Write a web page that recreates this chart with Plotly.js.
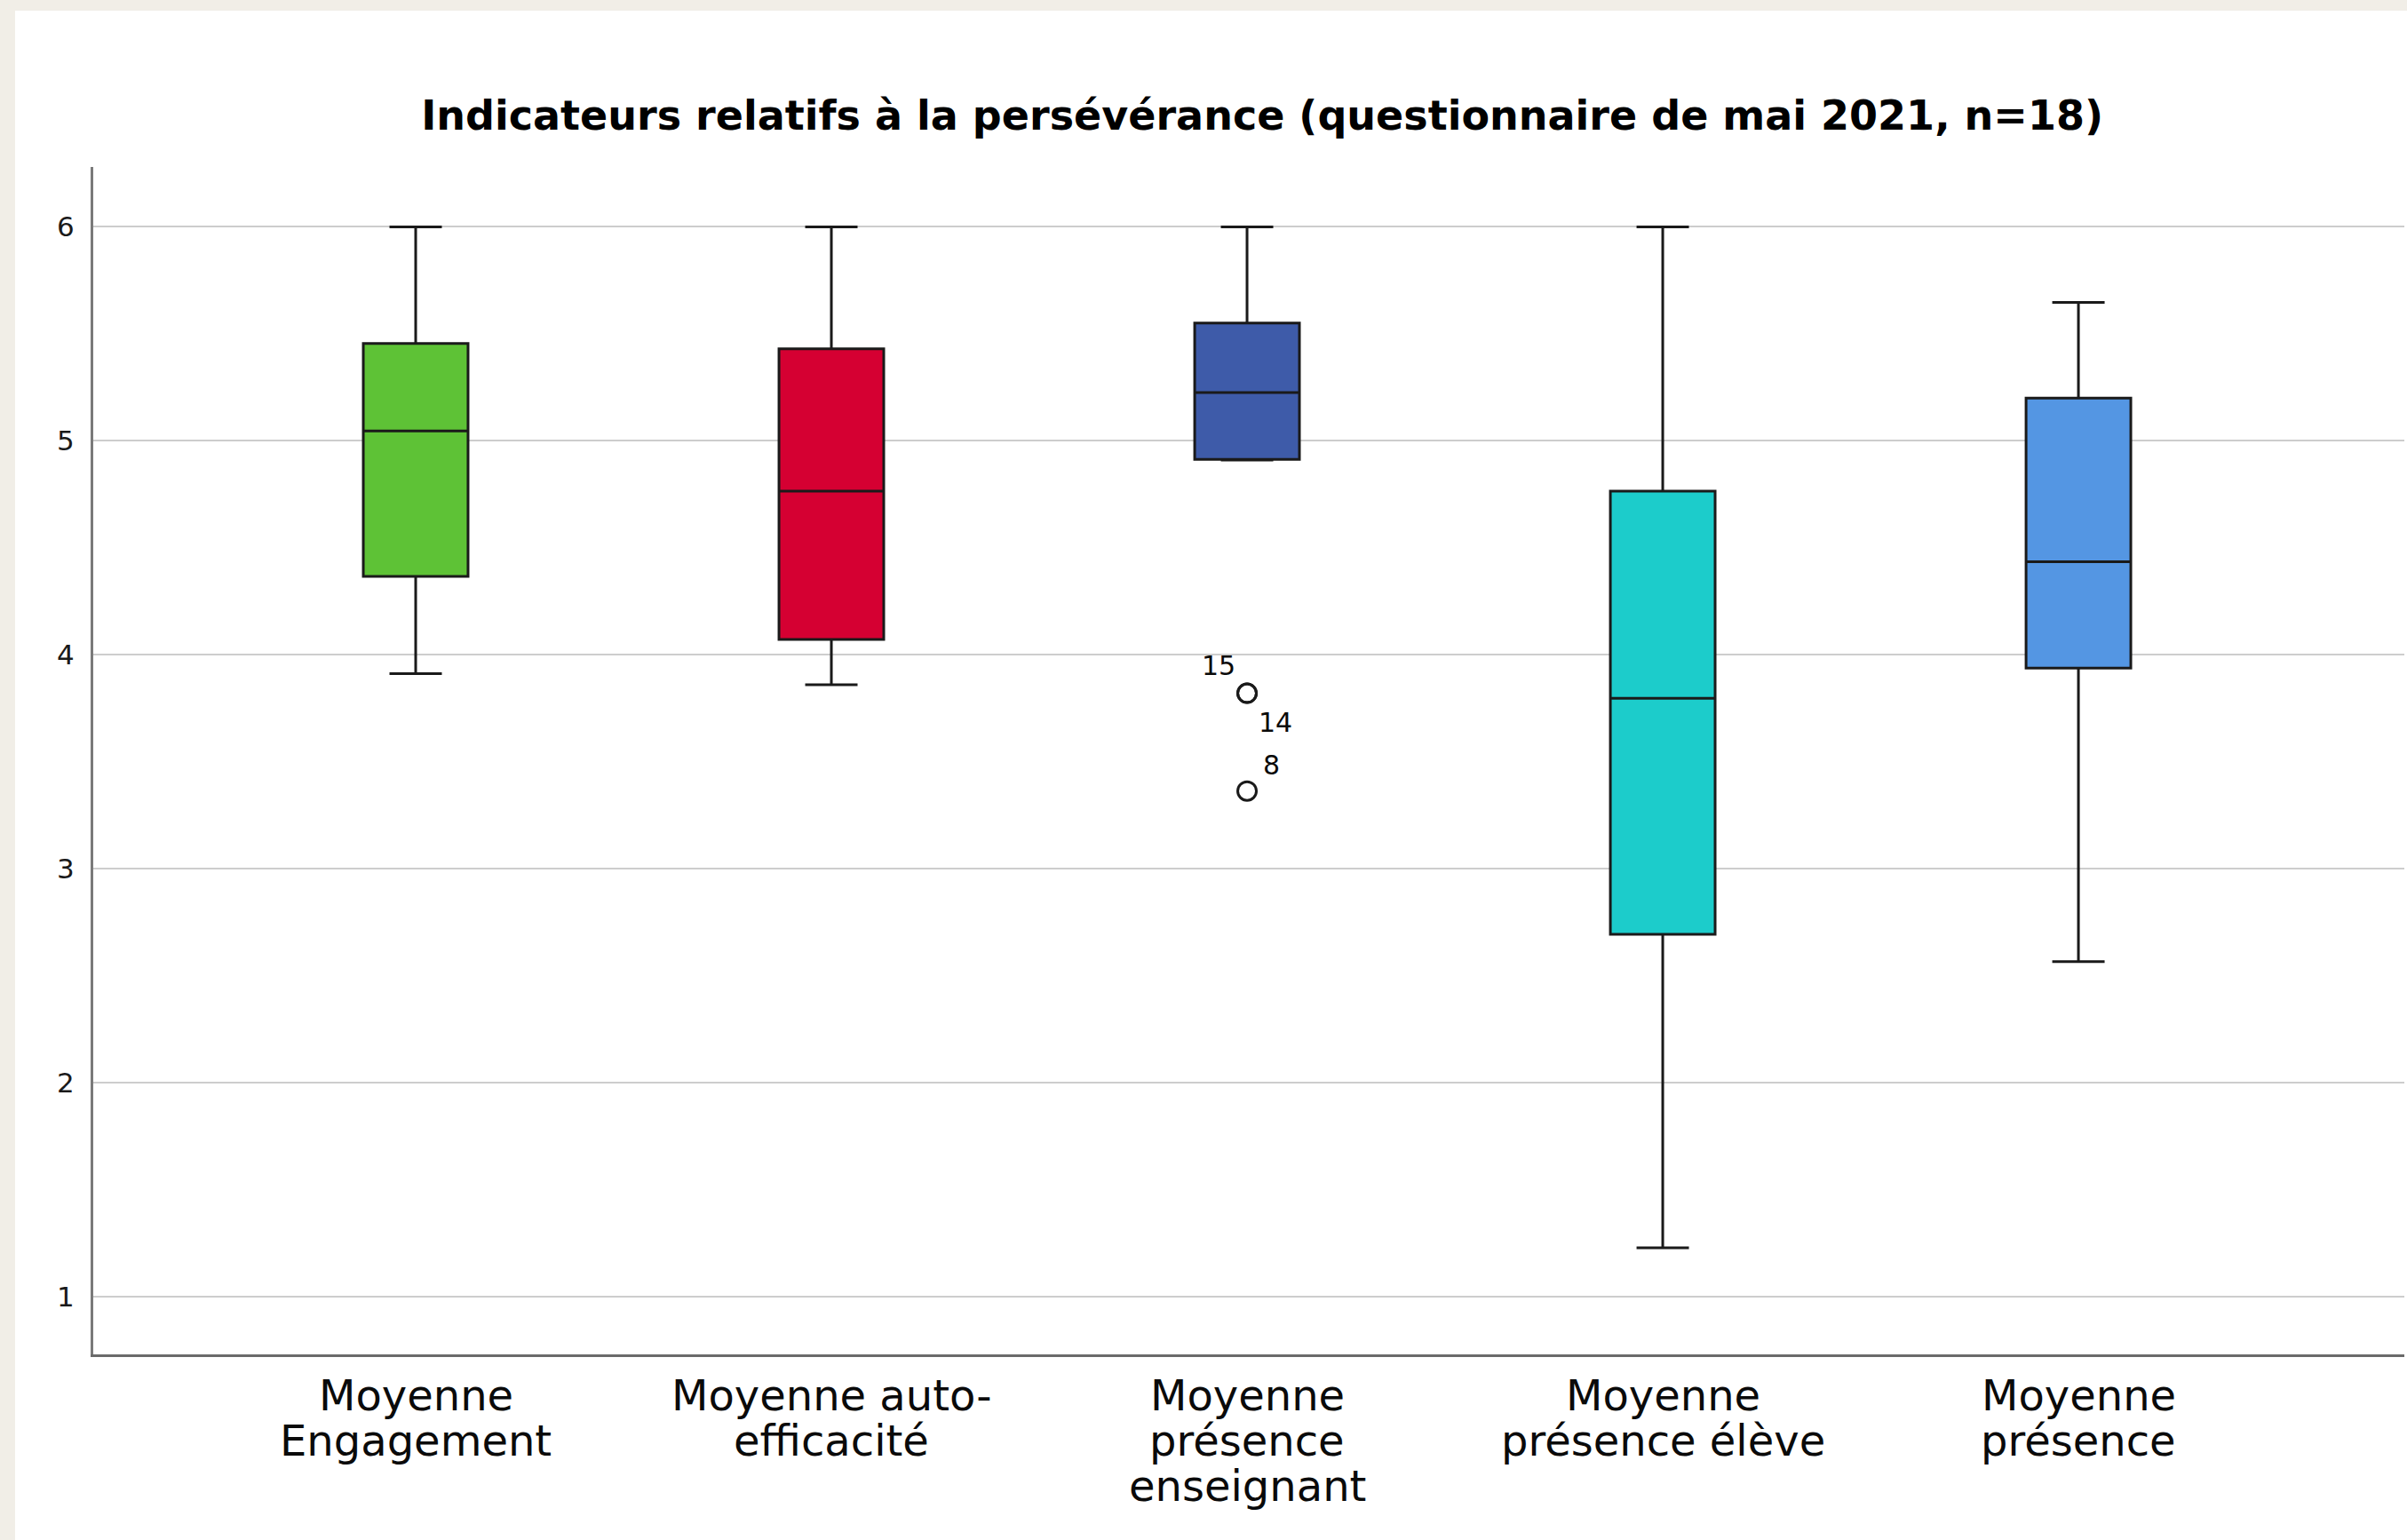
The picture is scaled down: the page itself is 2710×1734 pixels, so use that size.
<!DOCTYPE html>
<html>
<head>
<meta charset="utf-8">
<script src="https://cdn.plot.ly/plotly-3.0.1.min.js"></script>
<style>
  html, body { margin: 0; padding: 0; background: #F1EEE7; width: 2710px; height: 1734px; overflow: hidden; }
  #chart { position: absolute; left: 17px; top: 12px; width: 2693px; height: 1722px; background: #ffffff; }
</style>
</head>
<body>
<div id="chart"></div>
<script>
// ---- data ----
const categories = ['Moyenne Engagement', 'Moyenne auto-efficacité', 'Moyenne présence enseignant', 'Moyenne présence élève', 'Moyenne présence'];
const labelLines = [['Moyenne', 'Engagement'], ['Moyenne auto-', 'efficacité'], ['Moyenne', 'présence', 'enseignant'], ['Moyenne', 'présence élève'], ['Moyenne', 'présence']];
const upperWhisker = [6.0, 6.0, 6.0, 6.0, 5.647];
const q3Values     = [5.455, 5.43, 5.55, 4.765, 5.20];
const medianValues = [5.046, 4.765, 5.226, 3.797, 4.435];
const q1Values     = [4.366, 4.072, 4.913, 2.693, 3.938];
const lowerWhisker = [3.912, 3.860, 4.910, 1.228, 2.566];
const boxColors    = ['#5EC236', '#D50032', '#3E5BA9', '#1CCCCB', '#5496E3'];
const outlierCategory = 'Moyenne présence enseignant';
const outlierValues   = [3.82, 3.82, 3.363];
const outlierIds      = ['15', '14', '8'];
const yTicks = [1, 2, 3, 4, 5, 6];
const titleText = 'Indicateurs relatifs à la persévérance (questionnaire de mai 2021, n=18)';

// ---- styling ----
const FONT = 'DejaVu Sans, Verdana, sans-serif';
const outlierLabelShift = [[-32, 31], [32, -33], [27, 29]];

const traces = categories.map((c, i) => ({
  type: 'box',
  name: c,
  x: [c],
  q1: [q1Values[i]],
  median: [medianValues[i]],
  q3: [q3Values[i]],
  lowerfence: [lowerWhisker[i]],
  upperfence: [upperWhisker[i]],
  width: 0.252,
  whiskerwidth: 0.5,
  fillcolor: boxColors[i],
  line: { color: '#1a1a1a', width: 3 },
  boxpoints: false,
  hoverinfo: 'skip',
  showlegend: false
}));

traces.push({
  type: 'scatter',
  mode: 'markers',
  x: outlierValues.map(() => outlierCategory),
  y: outlierValues,
  marker: { symbol: 'circle-open', size: 21, color: '#1a1a1a', line: { width: 3, color: '#1a1a1a' } },
  hoverinfo: 'skip',
  showlegend: false
});

const annotations = [];
labelLines.forEach((lines, i) => {
  lines.forEach((ln, k) => {
    annotations.push({
      x: categories[i], xref: 'x',
      y: 0, yref: 'paper',
      xanchor: 'center', yanchor: 'top',
      yshift: -16 - 51 * k,
      text: ln, showarrow: false,
      font: { family: FONT, size: 48, color: '#0a0a0a' }
    });
  });
});
outlierIds.forEach((id, k) => {
  annotations.push({
    x: outlierCategory, xref: 'x',
    y: outlierValues[k], yref: 'y',
    xanchor: 'center', yanchor: 'middle',
    xshift: outlierLabelShift[k][0], yshift: outlierLabelShift[k][1],
    text: id, showarrow: false,
    font: { family: FONT, size: 30, color: '#0a0a0a' }
  });
});

const layout = {
  width: 2693,
  height: 1722,
  margin: { l: 88, r: 3, t: 176, b: 209, pad: 0 },
  paper_bgcolor: '#ffffff',
  plot_bgcolor: '#ffffff',
  boxmode: 'overlay',
  showlegend: false,
  title: {
    text: '<b>' + titleText + '</b>',
    font: { family: FONT, size: 46, color: '#000000' },
    xref: 'paper', x: 0.5058, xanchor: 'center',
    yref: 'container', y: 1 - 118 / 1722, yanchor: 'middle'
  },
  xaxis: {
    type: 'category',
    categoryorder: 'array',
    categoryarray: categories,
    range: [-0.7756, 4.784],
    showticklabels: false,
    ticks: '',
    showgrid: false,
    zeroline: false,
    showline: true,
    linecolor: '#6a6a6a',
    linewidth: 3
  },
  yaxis: {
    range: [0.73, 6.28],
    tickvals: yTicks,
    ticktext: yTicks.map(String),
    ticks: '',
    ticklabelstandoff: 12,
    tickfont: { family: FONT, size: 31, color: '#1a1a1a' },
    showgrid: true,
    gridcolor: '#cdcdcd',
    gridwidth: 2,
    zeroline: false,
    showline: true,
    linecolor: '#7a7a7a',
    linewidth: 3
  },
  annotations: annotations
};

Plotly.newPlot('chart', traces, layout, { staticPlot: true, displayModeBar: false });
</script>
</body>
</html>
